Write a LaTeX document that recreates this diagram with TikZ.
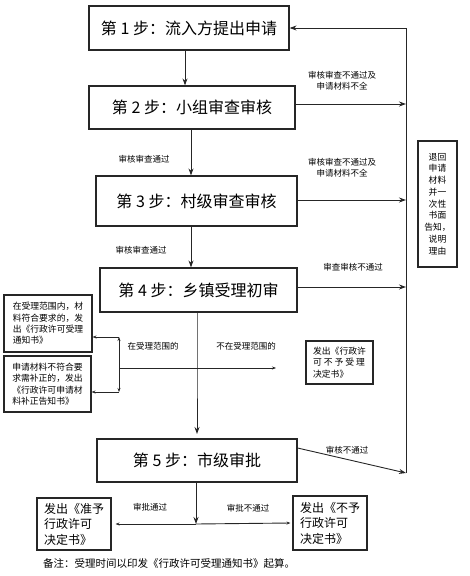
\documentclass[tikz,border=0pt]{standalone}
\usepackage{fontspec}
\newfontfamily\cjk{Noto Sans CJK SC}
\usetikzlibrary{arrows.meta}
\begin{document}
\begin{tikzpicture}[x=1pt,y=-1pt,
  every node/.style={font=\cjk, inner sep=0pt},
  mainbox/.style={draw=black!85, line width=1.2pt, font=\cjk\fontsize{16}{18}\selectfont, align=center},
  sidebox/.style={draw=black!85, line width=1.1pt, font=\cjk\fontsize{8.8}{11.4}\selectfont, align=left},
  bigbox/.style={draw=black!85, line width=1.1pt, font=\cjk\fontsize{12}{15.5}\selectfont, align=left},
  lab/.style={font=\cjk\fontsize{8.5}{11}\selectfont, align=center},
  ln/.style={draw=black!85, line width=0.9pt},
  arr/.style={ln, -{Stealth[length=7pt,width=5pt]}},
  sarr/.style={ln, -{Stealth[length=4pt,width=3pt]}}
]
\useasboundingbox (0,0) rectangle (470,576);

% main steps
\node[mainbox, minimum width=200pt, minimum height=44pt] (b1) at (189,28) {第 1 步：流入方提出申请};
\node[mainbox, minimum width=206pt, minimum height=43pt] (b2) at (192,107.5) {第 2 步：小组审查审核};
\node[mainbox, minimum width=201pt, minimum height=50pt] (b3) at (196.5,201) {第 3 步：村级审查审核};
\node[mainbox, minimum width=197pt, minimum height=44pt] (b4) at (198.5,290) {第 4 步：乡镇受理初审};
\node[mainbox, minimum width=200pt, minimum height=43pt] (b5) at (197,460.5) {第 5 步：市级审批};

% downward arrows
\draw[arr] ([xshift=-4pt]b1.south) -- ([xshift=-7pt]b2.north);
\draw[arr] ([xshift=-1pt]b2.south) -- ([xshift=-5.5pt]b3.north);
\draw[arr] ([xshift=-5.5pt]b3.south) -- ([xshift=-7.5pt]b4.north);
\coordinate (J) at (197,368);
\coordinate (J5) at (197,434);
\draw[arr] ([xshift=-1.5pt]b4.south) -- (J) -- (J5);

% right return line
\coordinate (R1) at (406,28);
\coordinate (R5) at (406,473);
\draw[arr] (R5) -- (R1) -- (b1.east);
\draw[arr] ([yshift=3.5pt]b2.east) -- ([yshift=3.5pt]b2.east -| R1);
\draw[arr] ([yshift=1pt]b3.east) -- ([yshift=1pt]b3.east -| R1);
\draw[arr] ([yshift=3pt]b4.east) -- ([yshift=3pt]b4.east -| R1);
\draw[arr] ([yshift=12.5pt]b5.east) -- (R5);

% labels right
\node[lab] (l1) at (342,81) {审核审查不通过及\\申请材料不全};
\node[lab] (l2) at (342,168) {审核审查不通过及\\申请材料不全};
\node[lab] (l3) at (353,267) {审查审核不通过};
\node[lab] (l4) at (347,450) {审核不通过};
\node[lab] (p1) at (144,159) {审核审查通过};
\node[lab] (p2) at (141,250) {审核审查通过};

% return box
\node[draw=black!85, line width=1.1pt, minimum width=39pt, minimum height=126pt,
  font=\cjk\fontsize{8.8}{11.75}\selectfont, align=center] (ret) at (437.5,204)
  {退回\\申请\\材料\\并一\\次性\\书面\\告知，\\说明\\理由};

% branch at step 4
\coordinate (L) at (119,368);
\coordinate (La) at (119,337);
\coordinate (Lb) at (119,392);
\coordinate (E) at (276,368);
\draw[sarr] (L) -- (E);
\draw[sarr] (L) -- (La);
\draw[sarr] (L) -- (Lb);

\node[sidebox, minimum width=88pt, minimum height=57pt, inner xsep=5pt] (bA) at (48,323.5)
  {在受理范围内，材\\料符合要求的，发\\出《行政许可受理\\通知书》};
\node[sidebox, minimum width=87pt, minimum height=56pt, inner xsep=5pt] (bB) at (47.5,384)
  {申请材料不符合要\\求需补正的，发出\\《行政许可申请材\\料补正告知书》};
\draw[sarr] (La) -- (bA.east |- La);
\draw[sarr] (Lb) -- (bB.east |- Lb);

\node[lab] (q1) at (153,346) {在受理范围的};
\node[lab] (q2) at (246,346) {不在受理范围的};

\node[sidebox, minimum width=67pt, minimum height=43pt, inner xsep=4pt] (nno) at (339.5,362.5)
  {发出《行政许\\可 不 予 受 理\\决定书》};

% bottom decisions
\coordinate (J2) at (196,524);
\draw[arr] ([xshift=-1pt]b5.south) -- (J2);
\node[bigbox, minimum width=74pt, minimum height=52pt, inner xsep=7pt] (yes) at (74,524)
  {发出《准予\\行政许可\\决定书》};
\node[bigbox, minimum width=74pt, minimum height=54pt, inner xsep=7pt] (no) at (330,523)
  {发出《不予\\行政许可\\决定书》};
\draw[sarr] (J2) -- ([xshift=4pt]yes.east);
\draw[sarr] (J2) -- ([xshift=-2pt]no.west);
\node[lab] (r1) at (150,507) {审批通过};
\node[lab] (r2) at (248,508) {审批不通过};

% note
\node[font=\cjk\fontsize{10.5}{12}\selectfont, anchor=west] (note) at (43,564)
  {备注：受理时间以印发《行政许可受理通知书》起算。};
\end{tikzpicture}
\end{document}
